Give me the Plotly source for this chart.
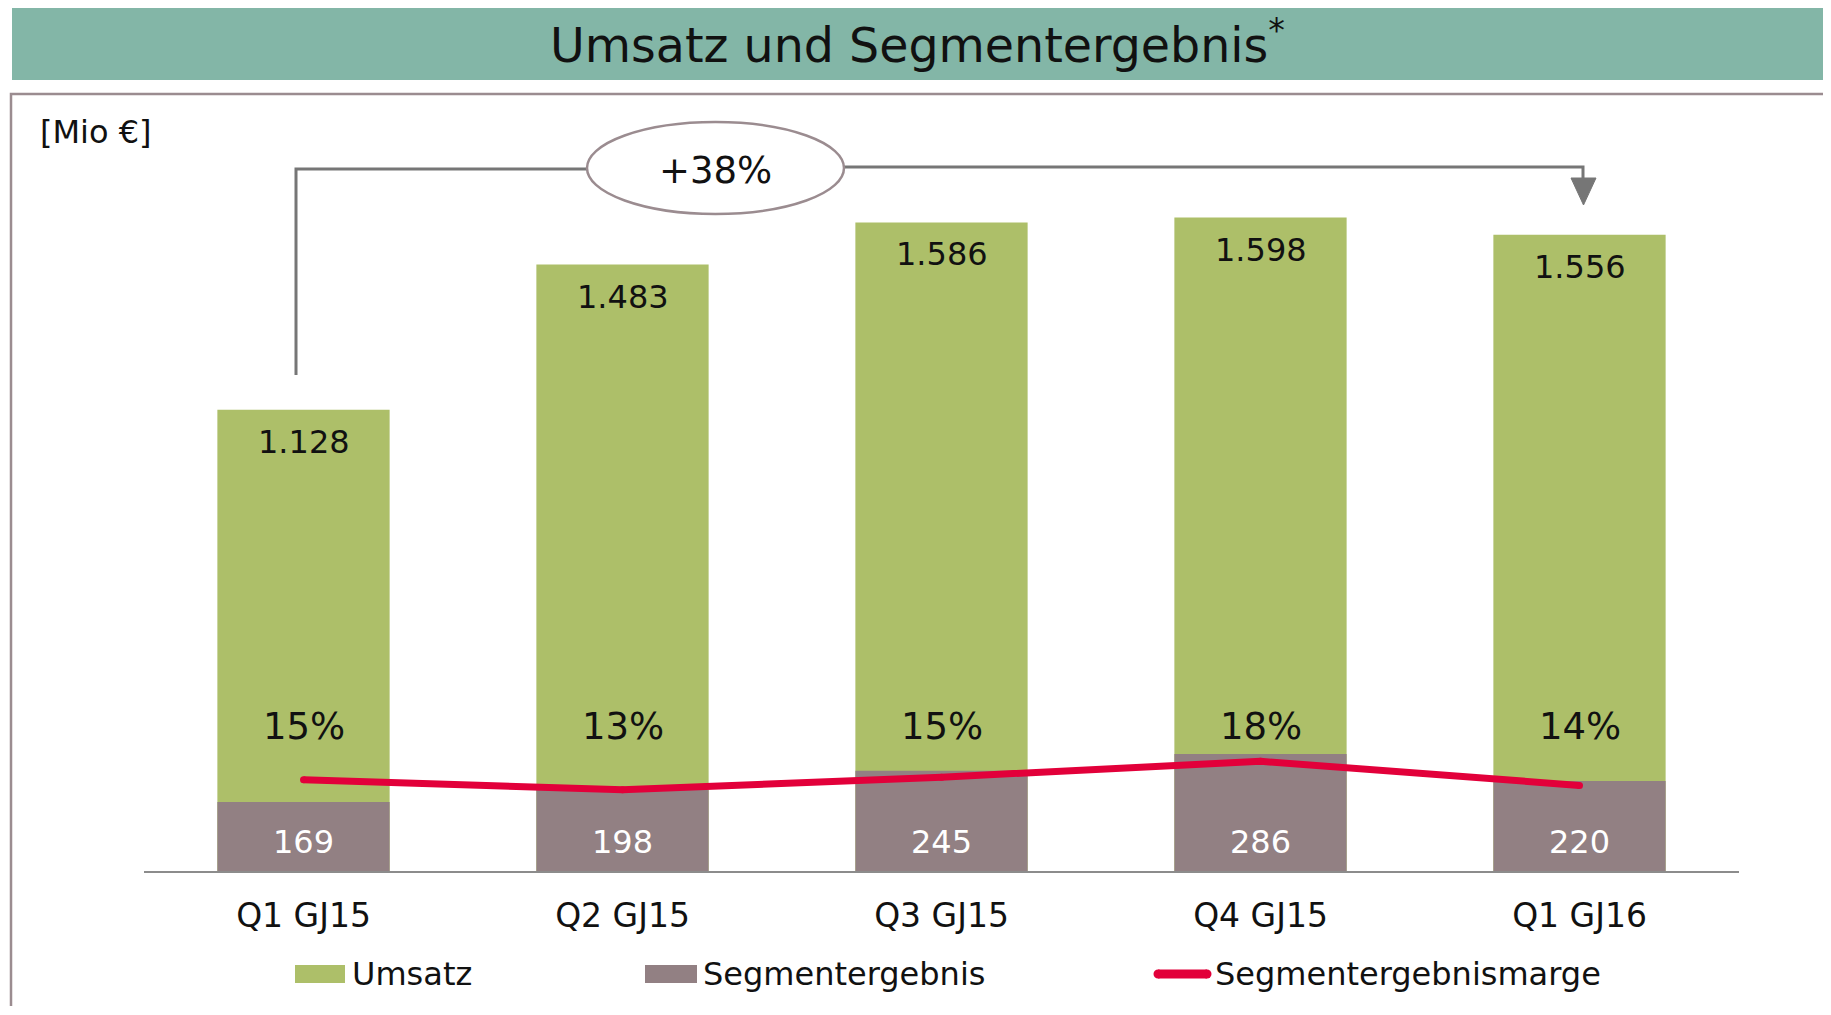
import plotly.graph_objects as go

# ---- data ----
categories = ["Q1 GJ15", "Q2 GJ15", "Q3 GJ15", "Q4 GJ15", "Q1 GJ16"]
umsatz = [1128, 1483, 1586, 1598, 1556]
segmentergebnis = [169, 198, 245, 286, 220]
marge = [15.0, 13.4, 15.4, 17.9, 14.1]  # Segmentergebnismarge in %
series_names = ["Umsatz", "Segmentergebnis", "Segmentergebnismarge"]
growth_label = "+38%"
unit_label = "[Mio €]"
title_text = "Umsatz und Segmentergebnis<sup>*</sup>"

# ---- style ----
OFF = 8  # page body margin
W, H = 1831 - OFF, 1015 - 2 * OFF - 1
PL, PR, PT, PB = 144 - OFF, 1739 - OFF, 110 - OFF, 871 - OFF
GREEN = "#adbf69"
GREY = "#928083"
RED = "#e2003a"
BAND = "#83b6a7"
FRAME = "#9b8c90"
ARROW = "#767676"
FONT = "DejaVu Sans"


def px(x):
    return (x - OFF - PL) / (PR - PL)


def py(y):
    return (PB - (y - OFF)) / (PB - PT)


fig = go.Figure()
fig.add_trace(go.Bar(x=categories, y=umsatz, name=series_names[0], marker_color=GREEN,
                     marker_line_width=0, width=0.54, showlegend=False))
fig.add_trace(go.Bar(x=categories, y=segmentergebnis, name=series_names[1], marker_color=GREY,
                     marker_line_width=0, width=0.54, showlegend=False))
fig.add_trace(go.Scatter(x=categories, y=marge, name=series_names[2], yaxis="y2",
                         mode="lines+markers", line=dict(color=RED, width=7),
                         marker=dict(color=RED, size=7), showlegend=False))

ann = []
shapes = []

# value labels
for i, c in enumerate(categories):
    ann.append(dict(x=c, y=umsatz[i], xref="x", yref="y", yshift=-32,
                    text=f"{umsatz[i]:,}".replace(",", "."), showarrow=False,
                    font=dict(family=FONT, size=32, color="#111111"), yanchor="middle"))
    ann.append(dict(x=c, y=0, xref="x", yref="y", yshift=29,
                    text=str(segmentergebnis[i]), showarrow=False,
                    font=dict(family=FONT, size=32, color="#ffffff"), yanchor="middle"))
    ann.append(dict(x=c, y=py(726), xref="x", yref="paper",
                    text=f"{marge[i]:.0f}%", showarrow=False,
                    font=dict(family=FONT, size=37, color="#111111"), yanchor="middle"))

# title band & frame
shapes.append(dict(type="rect", xref="paper", yref="paper", x0=px(12), x1=px(1828),
                   y0=py(80), y1=py(6), fillcolor=BAND, line=dict(width=0), layer="below"))
shapes.append(dict(type="rect", xref="paper", yref="paper", x0=px(11), x1=px(1825),
                   y0=py(1040), y1=py(94), fillcolor="rgba(0,0,0,0)",
                   line=dict(color=FRAME, width=2.5), layer="below"))
ann.append(dict(x=px(917), y=py(42), xref="paper", yref="paper", text=title_text,
                showarrow=False, font=dict(family=FONT, size=47.5, color="#111111"),
                xanchor="center", yanchor="middle"))
ann.append(dict(x=px(38), y=py(132), xref="paper", yref="paper", text=unit_label,
                showarrow=False, font=dict(family=FONT, size=32, color="#111111"),
                xanchor="left", yanchor="middle"))

# growth bracket with arrow
shapes.append(dict(type="path", xref="paper", yref="paper",
                   path=f"M {px(296)},{py(375)} L {px(296)},{py(169)} L {px(590)},{py(169)}",
                   line=dict(color=ARROW, width=3)))
shapes.append(dict(type="path", xref="paper", yref="paper",
                   path=f"M {px(840)},{py(167)} L {px(1583)},{py(167)} L {px(1583)},{py(182)}",
                   line=dict(color=ARROW, width=3)))
shapes.append(dict(type="path", xref="paper", yref="paper",
                   path=f"M {px(1571)},{py(178)} L {px(1596)},{py(178)} L {px(1583.5)},{py(205)} Z",
                   fillcolor=ARROW, line=dict(color=ARROW, width=1)))
shapes.append(dict(type="circle", xref="paper", yref="paper", x0=px(587), x1=px(844),
                   y0=py(214), y1=py(122), fillcolor="#ffffff", line=dict(color=FRAME, width=2.5)))
ann.append(dict(x=px(715), y=py(170), xref="paper", yref="paper", text=growth_label,
                showarrow=False, font=dict(family=FONT, size=37, color="#111111"),
                xanchor="center", yanchor="middle"))

# custom legend
leg_y = 974
shapes.append(dict(type="rect", xref="paper", yref="paper", x0=px(295), x1=px(345),
                   y0=py(983), y1=py(965), fillcolor=GREEN, line=dict(width=0)))
shapes.append(dict(type="rect", xref="paper", yref="paper", x0=px(645), x1=px(697),
                   y0=py(983), y1=py(965), fillcolor=GREY, line=dict(width=0)))
shapes.append(dict(type="line", xref="paper", yref="paper", x0=px(1158), x1=px(1207),
                   y0=py(leg_y), y1=py(leg_y), line=dict(color=RED, width=9)))
for cx in (1158, 1207):
    shapes.append(dict(type="circle", xref="paper", yref="paper", x0=px(cx - 4.5), x1=px(cx + 4.5),
                       y0=py(leg_y + 4.5), y1=py(leg_y - 4.5), fillcolor=RED, line=dict(width=0)))
for xl, name in zip((350, 701, 1213), series_names):
    ann.append(dict(x=px(xl), y=py(leg_y), xref="paper", yref="paper", text=name,
                    showarrow=False, font=dict(family=FONT, size=32, color="#111111"),
                    xanchor="left", yanchor="middle"))

fig.update_layout(
    width=W, height=H,
    margin=dict(l=PL, r=W - PR, t=PT, b=H - PB, pad=0),
    paper_bgcolor="#ffffff", plot_bgcolor="#ffffff",
    barmode="overlay", showlegend=False,
    font=dict(family=FONT, color="#111111"),
    xaxis=dict(range=[-0.5, 4.5], showgrid=False, zeroline=False,
               showline=True, linecolor="#8c8c8c", linewidth=2,
               ticks="outside", ticklen=14, tickcolor="rgba(0,0,0,0)",
               tickfont=dict(family=FONT, size=33, color="#111111")),
    yaxis=dict(range=[0, 1861], visible=False, showgrid=False, zeroline=False),
    yaxis2=dict(range=[0.6, 120.6], overlaying="y", visible=False, showgrid=False, zeroline=False),
    annotations=ann, shapes=shapes,
)

fig.write_html("out.html")
